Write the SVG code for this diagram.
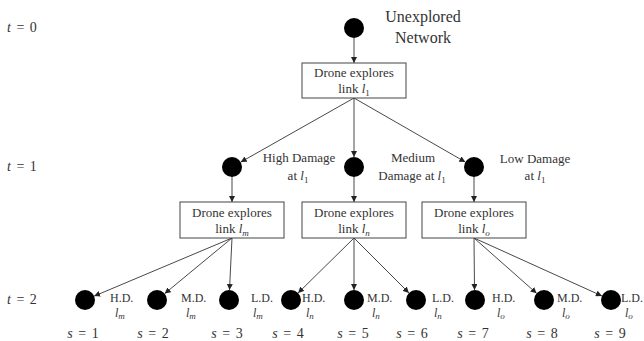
<svg xmlns="http://www.w3.org/2000/svg" width="644" height="341" viewBox="0 0 644 341" font-family="'Liberation Serif','DejaVu Serif',serif">
<style>
text{font-family:"Liberation Serif","DejaVu Serif",serif;font-size:13px;fill:#333}
.c{text-anchor:middle}
.i{font-style:italic}
.sub{font-size:9px}
.lab{font-size:12px}
.box{fill:#fff;stroke:#444;stroke-width:1}
.node{fill:#000}
.edge{stroke:#333;stroke-width:0.9;fill:none;marker-end:url(#ah)}
.big{font-size:16px}
.m{font-size:14px;word-spacing:2px}
</style>
<defs>
<marker id="ah" markerUnits="userSpaceOnUse" markerWidth="6" markerHeight="6" refX="6" refY="3" orient="auto">
<path d="M0,0 L6,3 L0,6 z" fill="#222"/>
</marker>
</defs>
<g id="time-labels">
<text x="7" y="32" class="m"><tspan class="i">t</tspan> = 0</text>
<text x="7" y="171" class="m"><tspan class="i">t</tspan> = 1</text>
<text x="7" y="304" class="m"><tspan class="i">t</tspan> = 2</text>
</g>
<g id="connectors">
<line class="edge" x1="354" y1="38" x2="354" y2="63"/>
<line class="edge" x1="354" y1="98" x2="240.7" y2="162.1"/>
<line class="edge" x1="354" y1="98" x2="354" y2="157"/>
<line class="edge" x1="354" y1="98" x2="465.3" y2="162"/>
<line class="edge" x1="232" y1="177" x2="232" y2="202"/>
<line class="edge" x1="354" y1="177" x2="354" y2="202"/>
<line class="edge" x1="474" y1="177" x2="474" y2="202"/>
<line class="edge" x1="232" y1="238" x2="94.2" y2="296.1"/>
<line class="edge" x1="232" y1="238" x2="164.7" y2="293.6"/>
<line class="edge" x1="232" y1="238" x2="229.5" y2="290"/>
<line class="edge" x1="354" y1="238" x2="298.1" y2="293"/>
<line class="edge" x1="354" y1="238" x2="354" y2="290"/>
<line class="edge" x1="354" y1="238" x2="408.9" y2="292.9"/>
<line class="edge" x1="474" y1="238" x2="474.5" y2="290"/>
<line class="edge" x1="474" y1="238" x2="536.6" y2="293.3"/>
<line class="edge" x1="474" y1="238" x2="601.9" y2="295.9"/>
</g>
<g id="root">
<circle class="node" cx="354" cy="28" r="10"/>
<text x="423" y="22" class="c big">Unexplored</text>
<text x="423" y="43" class="c big">Network</text>
</g>
<g id="box-l1">
<rect class="box" x="302" y="63" width="104" height="35"/>
<text x="354" y="77" class="c">Drone explores</text>
<text x="354" y="93" class="c">link <tspan class="i">l</tspan><tspan class="sub" dy="3">1</tspan></text>
</g>
<g id="n-high">
<circle class="node" cx="232" cy="167" r="10"/>
<text x="299" y="162" class="c">High Damage</text>
<text x="298" y="180" class="c">at <tspan class="i">l</tspan><tspan class="sub" dy="3">1</tspan></text>
</g>
<g id="n-medium">
<circle class="node" cx="354" cy="167" r="10"/>
<text x="413" y="162" class="c">Medium</text>
<text x="412" y="180" class="c">Damage at <tspan class="i">l</tspan><tspan class="sub" dy="3">1</tspan></text>
</g>
<g id="n-low">
<circle class="node" cx="474" cy="167" r="10"/>
<text x="535" y="163" class="c">Low Damage</text>
<text x="535" y="180" class="c">at <tspan class="i">l</tspan><tspan class="sub" dy="3">1</tspan></text>
</g>
<g id="box-lm">
<rect class="box" x="180" y="202" width="104" height="36"/>
<text x="232" y="217" class="c">Drone explores</text>
<text x="232" y="233" class="c">link <tspan class="i">l</tspan><tspan class="sub i" dy="3">m</tspan></text>
</g>
<g id="box-ln">
<rect class="box" x="302" y="202" width="104" height="36"/>
<text x="354" y="217" class="c">Drone explores</text>
<text x="354" y="233" class="c">link <tspan class="i">l</tspan><tspan class="sub i" dy="3">n</tspan></text>
</g>
<g id="box-lo">
<rect class="box" x="422" y="202" width="104" height="36"/>
<text x="474" y="217" class="c">Drone explores</text>
<text x="474" y="233" class="c">link <tspan class="i">l</tspan><tspan class="sub i" dy="3">o</tspan></text>
</g>
<g id="s1">
<circle class="node" cx="85" cy="300" r="10"/>
<text x="110" y="302" class="lab">H.D.</text>
<text x="115" y="317" class="lab"><tspan class="i">l</tspan><tspan class="sub i" dy="2">m</tspan></text>
<text x="83" y="338" class="c m"><tspan class="i">s</tspan> = 1</text>
</g>
<g id="s2">
<circle class="node" cx="157" cy="300" r="10"/>
<text x="181" y="302" class="lab">M.D.</text>
<text x="186" y="317" class="lab"><tspan class="i">l</tspan><tspan class="sub i" dy="2">m</tspan></text>
<text x="153" y="338" class="c m"><tspan class="i">s</tspan> = 2</text>
</g>
<g id="s3">
<circle class="node" cx="229" cy="300" r="10"/>
<text x="251" y="302" class="lab">L.D.</text>
<text x="253" y="317" class="lab"><tspan class="i">l</tspan><tspan class="sub i" dy="2">m</tspan></text>
<text x="227" y="338" class="c m"><tspan class="i">s</tspan> = 3</text>
</g>
<g id="s4">
<circle class="node" cx="291" cy="300" r="10"/>
<text x="302" y="302" class="lab">H.D.</text>
<text x="306" y="317" class="lab"><tspan class="i">l</tspan><tspan class="sub i" dy="2">n</tspan></text>
<text x="288" y="338" class="c m"><tspan class="i">s</tspan> = 4</text>
</g>
<g id="s5">
<circle class="node" cx="354" cy="300" r="10"/>
<text x="367" y="302" class="lab">M.D.</text>
<text x="372" y="317" class="lab"><tspan class="i">l</tspan><tspan class="sub i" dy="2">n</tspan></text>
<text x="353" y="338" class="c m"><tspan class="i">s</tspan> = 5</text>
</g>
<g id="s6">
<circle class="node" cx="416" cy="300" r="10"/>
<text x="432" y="302" class="lab">L.D.</text>
<text x="434" y="317" class="lab"><tspan class="i">l</tspan><tspan class="sub i" dy="2">n</tspan></text>
<text x="412" y="338" class="c m"><tspan class="i">s</tspan> = 6</text>
</g>
<g id="s7">
<circle class="node" cx="475" cy="300" r="10"/>
<text x="492" y="302" class="lab">H.D.</text>
<text x="497" y="317" class="lab"><tspan class="i">l</tspan><tspan class="sub i" dy="2">o</tspan></text>
<text x="473" y="338" class="c m"><tspan class="i">s</tspan> = 7</text>
</g>
<g id="s8">
<circle class="node" cx="544" cy="300" r="10"/>
<text x="557" y="302" class="lab">M.D.</text>
<text x="562" y="317" class="lab"><tspan class="i">l</tspan><tspan class="sub i" dy="2">o</tspan></text>
<text x="542" y="338" class="c m"><tspan class="i">s</tspan> = 8</text>
</g>
<g id="s9">
<circle class="node" cx="611" cy="300" r="10"/>
<text x="621" y="302" class="lab">L.D.</text>
<text x="625" y="317" class="lab"><tspan class="i">l</tspan><tspan class="sub i" dy="2">o</tspan></text>
<text x="610" y="338" class="c m"><tspan class="i">s</tspan> = 9</text>
</g>
</svg>
